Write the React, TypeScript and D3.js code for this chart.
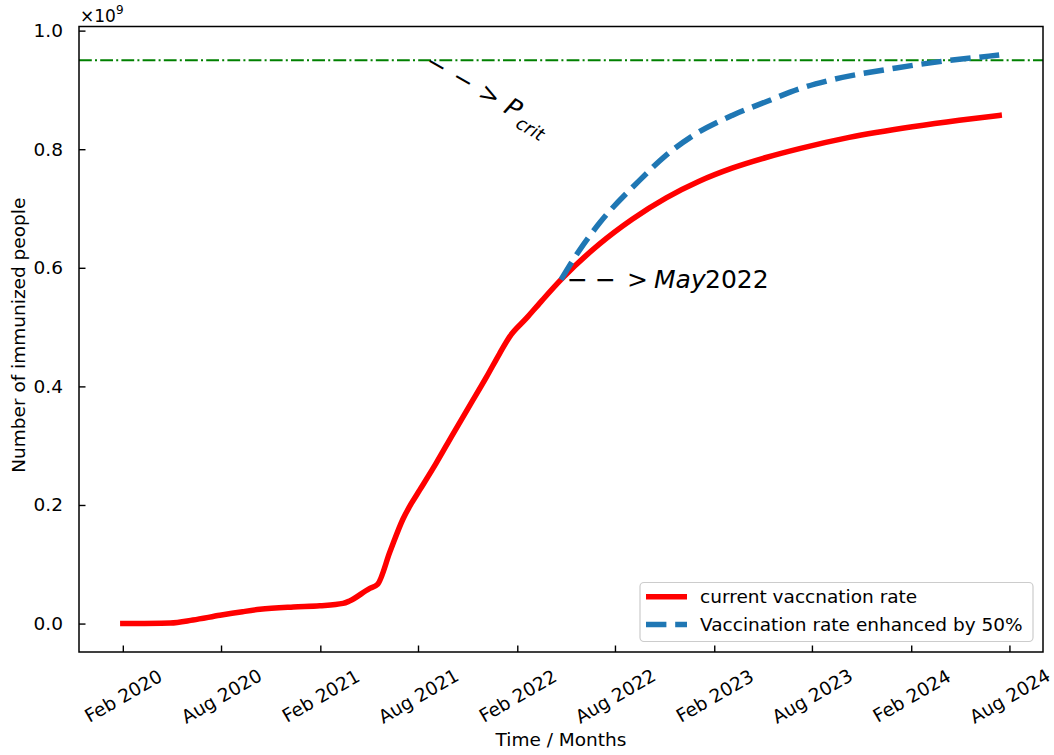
import React, { useEffect, useRef } from 'react';
import * as d3 from 'd3';

// current vaccination rate (values in units of 1e9 people)
const currentDates = [
  '2020-02-01', '2020-04-29', '2020-06-10', '2020-07-30', '2020-09-10', '2020-10-12',
  '2020-12-13', '2021-01-31', '2021-03-15', '2021-03-27', '2021-05-03', '2021-05-18',
  '2021-06-10', '2021-07-04', '2021-07-20', '2021-08-04', '2021-09-04', '2021-10-05',
  '2021-11-05', '2021-12-06', '2021-12-30', '2022-01-18', '2022-02-18', '2022-03-17',
  '2022-04-23', '2022-07-03', '2022-09-02', '2022-11-04', '2023-01-04', '2023-03-06',
  '2023-05-08', '2023-07-09', '2023-10-09', '2024-02-03', '2024-04-30', '2024-07-13',
];
const currentValues = [
  0.0, 0.001, 0.006, 0.014, 0.02, 0.024,
  0.028, 0.03, 0.034, 0.038, 0.059, 0.066,
  0.121, 0.176, 0.203, 0.225, 0.271, 0.32,
  0.368, 0.416, 0.455, 0.484, 0.515, 0.543,
  0.58, 0.64, 0.682, 0.718, 0.746, 0.768,
  0.786, 0.801, 0.82, 0.838, 0.849, 0.857,
];

// vaccination rate enhanced by 50% from May 2022
const enhancedDates = [
  '2022-04-23', '2022-05-26', '2022-07-03', '2022-09-15', '2022-11-04', '2022-12-22',
  '2023-03-06', '2023-05-08', '2023-07-09', '2023-09-02', '2024-01-04', '2024-04-05',
  '2024-06-24', '2024-07-13',
];
const enhancedValues = [
  0.58, 0.628, 0.675, 0.747, 0.79, 0.822,
  0.857, 0.88, 0.902, 0.916, 0.937, 0.949,
  0.957, 0.959,
];

const pCrit = 0.95;
const pCritLabelDate = '2021-08-22';

const yTicks = [0, 0.2, 0.4, 0.6, 0.8, 1.0];
const xTickDates = [
  '2020-02-01', '2020-08-01', '2021-02-01', '2021-08-01', '2022-02-01',
  '2022-08-01', '2023-02-01', '2023-08-01', '2024-02-01', '2024-08-01',
];
const xTickLabels = [
  'Feb 2020', 'Aug 2020', 'Feb 2021', 'Aug 2021', 'Feb 2022',
  'Aug 2022', 'Feb 2023', 'Aug 2023', 'Feb 2024', 'Aug 2024',
];
const legendLabels = ['current vaccnation rate', 'Vaccination rate enhanced by 50%'];

const FONT = '"DejaVu Sans", sans-serif';

const App: React.FC = () => {
  const ref = useRef<SVGSVGElement | null>(null);

  useEffect(() => {
    const svg = d3.select(ref.current);
    svg.selectAll('*').remove();
    const width = 1054;
    const height = 755;
    const margin = { top: 26.5, right: 11, bottom: 103, left: 79 };
    const parse = d3.timeParse('%Y-%m-%d');

    const current = currentDates.map((d, i) => ({ date: parse(d) as Date, value: currentValues[i] }));
    const enhanced = enhancedDates.map((d, i) => ({ date: parse(d) as Date, value: enhancedValues[i] }));
    const all = [...current, ...enhanced];

    // matplotlib-style 5% margins around the data
    const [t0, t1] = d3.extent(all, d => d.date.getTime()) as [number, number];
    const tPad = (t1 - t0) * 0.05;
    const vMin = d3.min(all, d => d.value) as number;
    const vMax = d3.max(all, d => d.value) as number;
    const vPad = (vMax - vMin) * 0.05;

    const x = d3.scaleTime()
      .domain([new Date(t0 - tPad), new Date(t1 + tPad)])
      .range([margin.left, width - margin.right]);
    const y = d3.scaleLinear()
      .domain([vMin - vPad, vMax + vPad])
      .range([height - margin.bottom, margin.top]);

    const plotBottom = height - margin.bottom;
    const plotRight = width - margin.right;

    // reference line P_crit
    svg.append('line')
      .attr('x1', margin.left).attr('x2', plotRight)
      .attr('y1', y(pCrit)).attr('y2', y(pCrit))
      .attr('stroke', '#008000').attr('stroke-width', 2)
      .attr('stroke-dasharray', '12.8 3.2 2 3.2');

    const line = d3.line<{ date: Date; value: number }>()
      .x(d => x(d.date))
      .y(d => y(d.value))
      .curve(d3.curveMonotoneX);

    svg.append('path')
      .datum(current)
      .attr('fill', 'none')
      .attr('stroke', '#ff0000')
      .attr('stroke-width', 5.5)
      .attr('stroke-linecap', 'square')
      .attr('d', line);

    svg.append('path')
      .datum(enhanced)
      .attr('fill', 'none')
      .attr('stroke', '#1f77b4')
      .attr('stroke-width', 5.5)
      .attr('stroke-dasharray', '20.4 8.8')
      .attr('d', line);

    // axes
    const yAxis = svg.append('g')
      .attr('transform', `translate(${margin.left},0)`)
      .call(d3.axisLeft(y).tickValues(yTicks).tickFormat(d3.format('.1f'))
        .tickSizeInner(-6.5).tickSizeOuter(0).tickPadding(16));
    yAxis.select('.domain').remove();
    yAxis.selectAll('line').attr('stroke', '#000').attr('stroke-width', 1.4);
    yAxis.selectAll('text')
      .attr('font-family', FONT).attr('font-size', 18.5).attr('fill', '#000');

    const xAxis = svg.append('g')
      .attr('transform', `translate(0,${plotBottom})`)
      .call(d3.axisBottom(x)
        .tickValues(xTickDates.map(d => parse(d) as Date))
        .tickFormat((_, i) => xTickLabels[i])
        .tickSizeInner(-6.5).tickSizeOuter(0));
    xAxis.select('.domain').remove();
    xAxis.selectAll('line').attr('stroke', '#000').attr('stroke-width', 1.4);
    xAxis.selectAll('text')
      .attr('font-family', FONT).attr('font-size', 18.5).attr('fill', '#000')
      .attr('y', 0).attr('dy', '0.35em')
      .attr('text-anchor', 'middle')
      .attr('transform', 'translate(0,44) rotate(-30)');

    // frame
    svg.append('rect')
      .attr('x', margin.left).attr('y', margin.top)
      .attr('width', plotRight - margin.left).attr('height', plotBottom - margin.top)
      .attr('fill', 'none').attr('stroke', '#000').attr('stroke-width', 1.5);

    // offset text ×10^9
    const off = svg.append('text')
      .attr('x', 80).attr('y', 22)
      .attr('font-family', FONT).attr('font-size', 17).attr('fill', '#000');
    off.append('tspan').text('×10');
    off.append('tspan').attr('font-size', 12).attr('dy', -8).text('9');

    // axis labels
    svg.append('text')
      .attr('x', (margin.left + plotRight) / 2).attr('y', 746)
      .attr('text-anchor', 'middle')
      .attr('font-family', FONT).attr('font-size', 18.5)
      .text('Time / Months');
    svg.append('text')
      .attr('transform', `translate(19,${(margin.top + plotBottom) / 2 - 4}) rotate(-90)`)
      .attr('dy', '0.35em')
      .attr('text-anchor', 'middle')
      .attr('font-family', FONT).attr('font-size', 18.5)
      .text('Number of immunized people');

    // annotation: --> P_crit
    const pc = svg.append('g')
      .attr('transform', `translate(${x(parse(pCritLabelDate) as Date)},${y(pCrit)}) rotate(30)`)
      .attr('font-family', FONT).attr('font-size', 25).attr('fill', '#000');
    pc.append('text').attr('x', -2).attr('y', 8).text('\u2212');
    pc.append('text').attr('x', 28.5).attr('y', 8).text('\u2212');
    pc.append('text').attr('x', 59).attr('y', 8).text('>');
    pc.append('text').attr('x', 89).attr('y', 8).attr('font-style', 'italic').text('P');
    pc.append('text').attr('x', 107).attr('y', 15).attr('font-size', 18)
      .attr('font-style', 'italic').text('crit');

    // annotation: --> May2022
    const start = enhanced[0];
    const mg = svg.append('g')
      .attr('transform', `translate(${x(start.date)},${y(start.value)})`)
      .attr('font-family', FONT).attr('font-size', 25).attr('fill', '#000');
    mg.append('text').attr('x', 6).attr('y', 8).text('\u2212');
    mg.append('text').attr('x', 34).attr('y', 8).text('\u2212');
    mg.append('text').attr('x', 66).attr('y', 8).text('>');
    mg.append('text').attr('x', 93).attr('y', 8).attr('font-style', 'italic').text('May');
    mg.append('text').attr('x', 144).attr('y', 8).text('2022');

    // legend
    const lg = svg.append('g');
    lg.append('rect')
      .attr('x', 640).attr('y', 582.5).attr('width', 393).attr('height', 59).attr('rx', 4)
      .attr('fill', '#fff').attr('fill-opacity', 0.8)
      .attr('stroke', '#cccccc').attr('stroke-width', 1.2);
    const colors = ['#ff0000', '#1f77b4'];
    const dashes = [null, '20.4 8.8'];
    legendLabels.forEach((label, i) => {
      const ly = 596.8 + i * 27.6;
      lg.append('line')
        .attr('x1', 646).attr('x2', 687).attr('y1', ly).attr('y2', ly)
        .attr('stroke', colors[i]).attr('stroke-width', 5.5)
        .attr('stroke-dasharray', dashes[i]);
      lg.append('text')
        .attr('x', 700).attr('y', ly).attr('dy', '0.35em')
        .attr('font-family', FONT).attr('font-size', 18.5).attr('fill', '#000')
        .text(label);
    });
  }, []);

  return (
    <div style={{ position: 'absolute', left: 0, top: 0 }}>
      <svg ref={ref} width={1054} height={755} style={{ display: 'block', background: '#fff' }} />
    </div>
  );
};

export default App;
